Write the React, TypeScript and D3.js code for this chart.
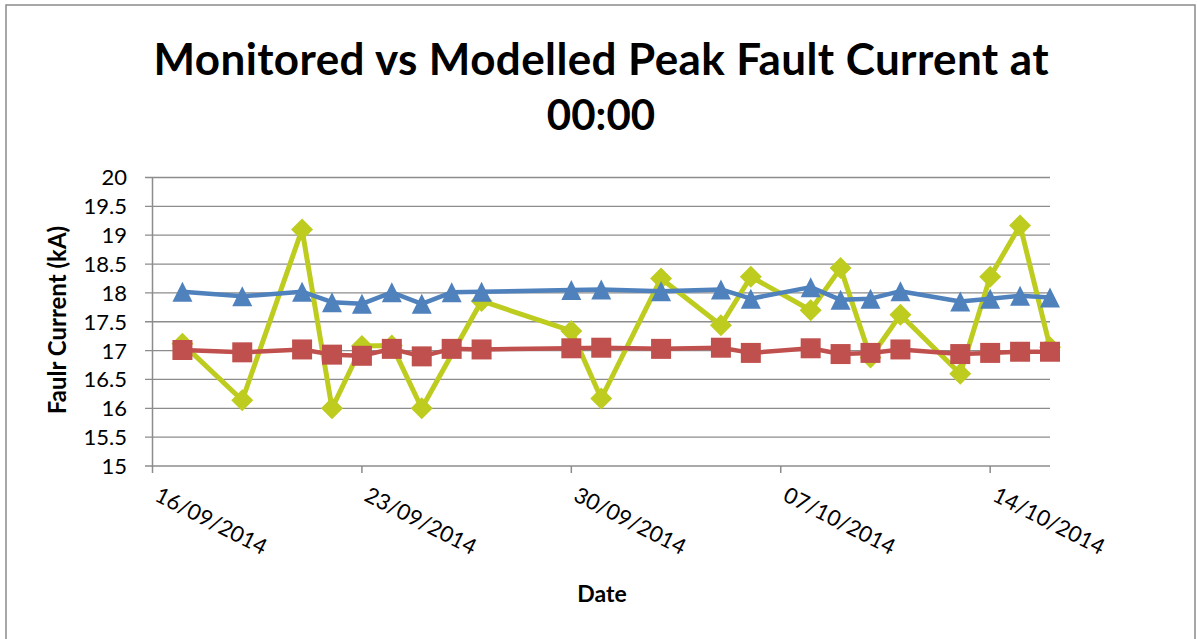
import React from 'react';
import * as d3 from 'd3';

// sample dates (dd/mm/yyyy)
const dates = [
  '17/09/2014', '19/09/2014', '21/09/2014', '22/09/2014', '23/09/2014', '24/09/2014',
  '25/09/2014', '26/09/2014', '27/09/2014', '30/09/2014', '01/10/2014', '03/10/2014',
  '05/10/2014', '06/10/2014', '08/10/2014', '09/10/2014', '10/10/2014', '11/10/2014',
  '13/10/2014', '14/10/2014', '15/10/2014', '16/10/2014',
];

// modelled max (blue triangles)
const modelledMax = [
  18.02, 17.94, 18.02, 17.84, 17.81, 18.01, 17.81, 18.01, 18.02, 18.05, 18.06, 18.03,
  18.06, 17.9, 18.1, 17.88, 17.9, 18.03, 17.85, 17.9, 17.95, 17.92,
];

// modelled min (red squares)
const modelledMin = [
  17.01, 16.97, 17.02, 16.93, 16.91, 17.03, 16.9, 17.03, 17.02, 17.04, 17.05, 17.03,
  17.05, 16.96, 17.04, 16.94, 16.96, 17.02, 16.94, 16.96, 16.98, 16.98,
];

// monitored (green diamonds), null = no reading
const monitored: (number | null)[] = [
  17.12, 16.14, 19.1, 16.0, 17.08, 17.09, 16.0, null, 17.86, 17.34, 16.17, 18.25,
  17.44, 18.28, 17.7, 18.43, 16.88, 17.62, 16.6, 18.28, 19.17, 17.06,
];

const xTickDates = ['16/09/2014', '23/09/2014', '30/09/2014', '07/10/2014', '14/10/2014'];
const yTicks = [15, 15.5, 16, 16.5, 17, 17.5, 18, 18.5, 19, 19.5, 20];

const W = 1197;
const H = 639;
const FONT = 'Lato, "Open Sans", sans-serif';

const parse = d3.timeParse('%d/%m/%Y');
const fmt = d3.timeFormat('%d/%m/%Y');

const triangle = 'M0,-10L10,10L-10,10Z';
const square = 'M-10,-10H10V10H-10Z';
const diamond = 'M0,-11L11,0L0,11L-11,0Z';

export default function App() {
  const x = d3.scaleTime()
    .domain([parse('16/09/2014')!, parse('16/10/2014')!])
    .range([152.5, 1050]);
  const y = d3.scaleLinear().domain([15, 20]).range([466, 177.5]);

  const series = [
    { name: 'Monitored', values: monitored, color: '#bdcc1f', marker: diamond, width: 5 },
    { name: 'Modelled max', values: modelledMax, color: '#4f81bd', marker: triangle, width: 4.5 },
    { name: 'Modelled min', values: modelledMin, color: '#c0504d', marker: square, width: 4.5 },
  ];

  const line = d3.line<[Date, number]>()
    .x(d => x(d[0]))
    .y(d => y(d[1]));

  return (
    <div style={{ position: 'absolute', left: 0, top: 0 }}>
      <svg width={W} height={H} style={{ display: 'block', background: '#fff' }}>
        <rect x={6} y={5} width={1189} height={H} fill="#fff" stroke="#8a8a8a" strokeWidth={1.5} />

        <text x={601} y={75} textAnchor="middle" fontFamily={FONT} fontWeight="bold" fontSize={44}
          textLength={895} lengthAdjust="spacing">
          Monitored vs Modelled Peak Fault Current at
        </text>
        <text x={601} y={130} textAnchor="middle" fontFamily={FONT} fontWeight="bold" fontSize={42}>
          00:00
        </text>

        {/* gridlines + y ticks */}
        {yTicks.map(t => (
          <g key={t}>
            <line x1={145} x2={1050} y1={y(t)} y2={y(t)} stroke="#8c8c8c" strokeWidth={1.3} />
            <text x={127} y={y(t)} dy="0.36em" textAnchor="end" fontFamily={FONT} fontSize={22}>
              {t}
            </text>
          </g>
        ))}
        <line x1={152.5} x2={152.5} y1={y(20)} y2={y(15) + 1} stroke="#8c8c8c" strokeWidth={1.5} />

        {/* x ticks */}
        {xTickDates.map(s => {
          const px = x(parse(s)!);
          return (
            <g key={s}>
              <line x1={px} x2={px} y1={466} y2={473} stroke="#8c8c8c" strokeWidth={1.5} />
              <text transform={`translate(${px + 1},${500}) rotate(27)`} textAnchor="start"
                fontFamily={FONT} fontSize={22}>
                {fmt(parse(s)!)}
              </text>
            </g>
          );
        })}

        <text transform="translate(66,320) rotate(-90)" textAnchor="middle" fontFamily={FONT}
          fontWeight="bold" fontSize={24}>
          Faulr Current (kA)
        </text>
        <text x={602} y={602} textAnchor="middle" fontFamily={FONT} fontWeight="bold" fontSize={23}>
          Date
        </text>

        {series.map(s => {
          const pts = dates
            .map((d, i) => [parse(d)!, s.values[i]] as [Date, number | null])
            .filter(p => p[1] != null) as [Date, number][];
          return (
            <g key={s.name}>
              <path d={line(pts) ?? ''} fill="none" stroke={s.color} strokeWidth={s.width}
                strokeLinejoin="round" />
              {pts.map((p, i) => (
                <path key={i} d={s.marker} transform={`translate(${x(p[0])},${y(p[1])})`} fill={s.color} />
              ))}
            </g>
          );
        })}
      </svg>
    </div>
  );
}
